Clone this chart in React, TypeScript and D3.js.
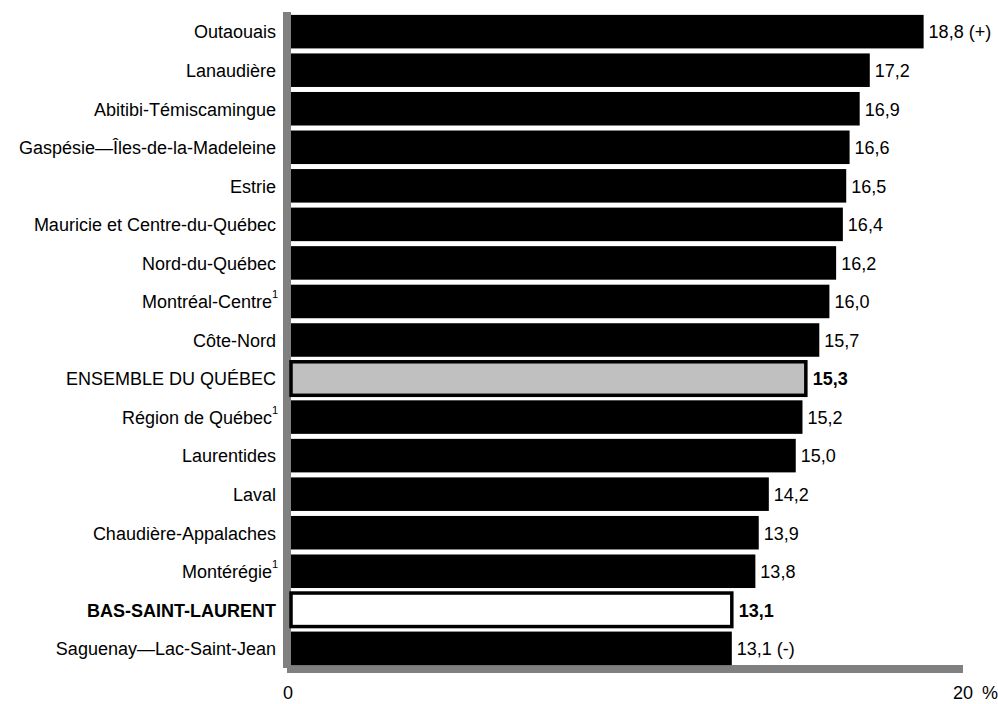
import React from "react";
import * as d3 from "d3";

const categories: string[] = [
  "Outaouais",
  "Lanaudière",
  "Abitibi-Témiscamingue",
  "Gaspésie—Îles-de-la-Madeleine",
  "Estrie",
  "Mauricie et Centre-du-Québec",
  "Nord-du-Québec",
  "Montréal-Centre",
  "Côte-Nord",
  "ENSEMBLE DU QUÉBEC",
  "Région de Québec",
  "Laurentides",
  "Laval",
  "Chaudière-Appalaches",
  "Montérégie",
  "BAS-SAINT-LAURENT",
  "Saguenay—Lac-Saint-Jean",
];

const values: number[] = [18.8, 17.2, 16.9, 16.6, 16.5, 16.4, 16.2, 16.0, 15.7, 15.3, 15.2, 15.0, 14.2, 13.9, 13.8, 13.1, 13.1];

const valueSuffix: string[] = [" (+)", "", "", "", "", "", "", "", "", "", "", "", "", "", "", "", " (-)"];

const footnoted: string[] = ["Montréal-Centre", "Région de Québec", "Montérégie"];

const totalCategory = "ENSEMBLE DU QUÉBEC";
const regionCategory = "BAS-SAINT-LAURENT";

const xDomain: [number, number] = [0, 20];
const tickLabels: string[] = ["0", "20"];
const unitLabel = "%";

const W = 998;
const H = 704;
const FONT = "'Liberation Sans', Arial, Helvetica, sans-serif";

export default function App() {
  const x = d3.scaleLinear().domain(xDomain).range([291, 964]);
  const y = d3
    .scaleBand<string>()
    .domain(categories)
    .range([12, 668])
    .paddingInner(0.13)
    .paddingOuter(0.075);
  const bw = y.bandwidth();
  const fmt = (v: number) => d3.format(".1f")(v).replace(".", ",");

  return (
    <svg
      width={W}
      height={H}
      style={{ position: "absolute", left: 0, top: 0, background: "#fff" }}
      fontFamily={FONT}
    >
      {/* axis shadow lines */}
      <rect x={287} y={665} width={676} height={8} fill="#808080" />
      <rect x={283} y={12} width={8} height={656} fill="#808080" />

      {categories.map((c, i) => {
        const yy = y(c)!;
        const v = values[i];
        const isTotal = c === totalCategory;
        const isRegion = c === regionCategory;
        const special = isTotal || isRegion;
        const x0 = x(0);
        const x1 = x(v);
        const cy = yy + bw / 2;
        return (
          <g key={c}>
            {special ? (
              <rect
                x={x0}
                y={yy}
                width={x1 - x0}
                height={bw}
                fill={isTotal ? "#c0c0c0" : "#ffffff"}
                stroke="#000"
                strokeWidth={3.5}
              />
            ) : (
              <rect x={x0} y={yy} width={x1 - x0} height={bw} fill="#000" />
            )}
            <text
              x={x1 + (special ? 7 : 5)}
              y={cy}
              dy="0.38em"
              fontSize={18}
              fontWeight={special ? "bold" : "normal"}
              fill="#000"
            >
              {fmt(v) + valueSuffix[i]}
            </text>
            <text
              x={footnoted.includes(c) ? 272 : 276}
              y={cy}
              dy="0.38em"
              fontSize={18}
              textAnchor="end"
              fontWeight={isRegion ? "bold" : "normal"}
              fill="#000"
            >
              {c}
            </text>
            {footnoted.includes(c) && (
              <text x={272} y={cy - 3} fontSize={11} fill="#000">
                1
              </text>
            )}
          </g>
        );
      })}

      <text x={x(0) - 3} y={699} fontSize={18} textAnchor="middle" fill="#000">
        {tickLabels[0]}
      </text>
      <text x={x(20) - 1} y={699} fontSize={18} textAnchor="middle" fill="#000">
        {tickLabels[1]}
      </text>
      <text x={982} y={699} fontSize={18} fill="#000">
        {unitLabel}
      </text>
    </svg>
  );
}
